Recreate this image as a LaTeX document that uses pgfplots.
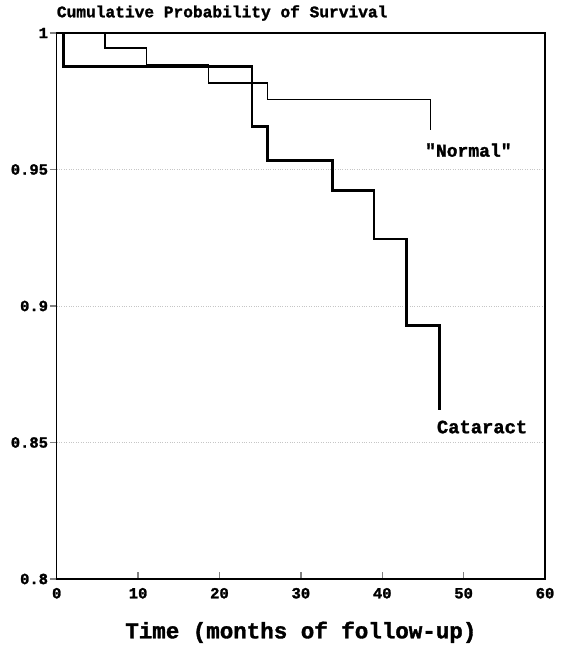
\documentclass[border=0pt]{standalone}
\usepackage{fontspec}
\setmainfont{Liberation Mono}[Ligatures=TeXOff, BoldFeatures={FakeBold=1.6}]
\usepackage{pgfplots}
\pgfplotsset{compat=1.18}

% survival curves (months, cumulative probability)
\pgfplotstableread{
t     s
0     1
5.93  0.9945
11.06 0.9884
18.62 0.9817
25.87 0.9756
45.95 0.9646
}\normaltab
\pgfplotstableread{
t     s
0     1
0.8   0.9878
24.0  0.9658
25.9  0.9532
33.9  0.9424
39.0  0.9245
43.0  0.8929
47.0  0.8618
}\cataracttab

\begin{document}
\begin{tikzpicture}
\useasboundingbox (-56.7pt,-66pt) rectangle (509.3pt,579pt);
\begin{axis}[
	at={(0,0)}, anchor=south west,
	scale only axis,
	width=488.3pt, height=546pt,
	xmin=0, xmax=60, ymin=0.8, ymax=1,
	xtick={0,10,...,60},
	ytick={0.8,0.85,0.9,0.95,1},
	yticklabels={0.8,0.85,0.9,0.95,1},
	tick pos=left,
	tick align=inside,
	major tick length=7pt,
	ytick style={xshift=-7pt, line width=1.3pt},
	xtick style={line width=1.3pt},
	axis line style={line width=1.5pt},
	ymajorgrids,
	grid style={gray!45, dotted, line width=0.7pt},
	/pgf/number format/assume math mode=true,
	tick label style={font=\fontsize{15.5}{16}\selectfont\bfseries, inner sep=0pt, outer sep=0pt},
	yticklabel style={anchor=east, xshift=-8.7pt},
	xticklabel style={anchor=north, yshift=-9pt},
	xlabel={Time (months of follow-up)},
	xlabel style={font=\fontsize{22.5}{24}\selectfont\bfseries, at={(axis description cs:0.5,0)}, anchor=base, yshift=-59.3pt, inner sep=0pt},
	title={Cumulative Probability of Survival},
	title style={font=\fontsize{16.2}{18}\selectfont\bfseries, at={(axis description cs:0,1)}, anchor=base west, yshift=9.7pt, inner sep=0pt},
	clip=false,
]
\addplot[const plot, black, line width=1.3pt] table[x=t, y=s] {\normaltab};
\addplot[const plot, black, line width=2.6pt] table[x=t, y=s] {\cataracttab};
\node[anchor=base west, inner sep=0pt, font=\fontsize{18}{20}\selectfont\bfseries] at (axis cs:45.25,0.9547) {"Normal"};
\node[anchor=base west, inner sep=0pt, font=\fontsize{18.8}{20}\selectfont\bfseries] at (axis cs:46.7,0.8534) {Cataract};
\end{axis}
\end{tikzpicture}
\end{document}
